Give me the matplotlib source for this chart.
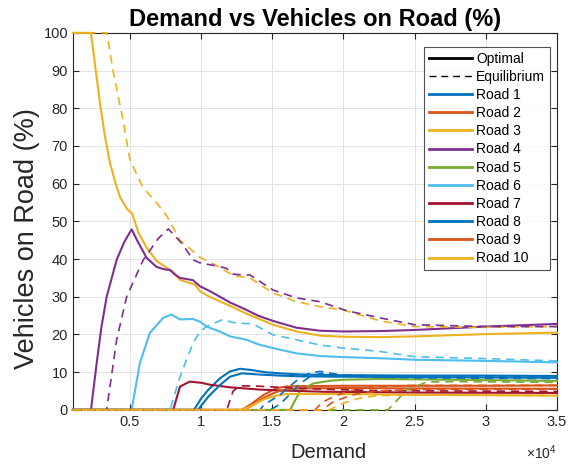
import matplotlib
matplotlib.use('Agg')
import matplotlib.pyplot as plt
from matplotlib.lines import Line2D

plt.rcParams['font.family'] = ['Liberation Sans', 'DejaVu Sans']
plt.rcParams['mathtext.fontset'] = 'custom'
plt.rcParams['mathtext.rm'] = 'Liberation Sans'

# MATLAB default colour order, roads 8-10 repeat 1-3
colors = ['#0072BD', '#D95319', '#EDB120', '#7E2F8E', '#77AC30',
          '#4DBEEE', '#A2142F', '#0072BD', '#D95319', '#EDB120']
road_names = ['Road %d' % i for i in range(1, 11)]
x_ticks = [5000, 10000, 15000, 20000, 25000, 30000, 35000]
x_tick_labels = ['0.5', '1', '1.5', '2', '2.5', '3', '3.5']

# optimal assignment (solid)
opt_x = [
    [1000, 9500, 10000, 10500, 11330, 12030, 12730, 13500, 14500, 15500, 17000, 20000, 25000, 30000, 35000],
    [1000, 12850, 13500, 14400, 15300, 16000, 17000, 20000, 25000, 30000, 35000],
    [1000, 2265, 2500, 2897, 3250, 3600, 4000, 4302, 4800, 5166, 5600, 6180, 6880, 7580, 8030, 8520, 9570,
     9920, 10600, 12030, 13200, 15050, 16700, 18350, 20000, 22570, 25000, 30000, 35000],
    [1000, 2265, 2665, 3000, 3367, 4070, 4600, 5124, 5500, 6180, 6880, 7400, 7810, 8200, 8520, 9000, 9430,
     9920, 10620, 12030, 13200, 14000, 15050, 16700, 18350, 20000, 22570, 25000, 30000, 35000],
    [1000, 16250, 16950, 17860, 19000, 20000, 22500, 25000, 30000, 35000],
    [1000, 5124, 5400, 5700, 6400, 7330, 7900, 8520, 9430, 9920, 10390, 11500, 12030, 13200, 14000, 15050,
     16700, 18350, 20000, 22570, 25000, 30000, 35000],
    [1000, 8040, 8520, 9200, 10000, 10600, 12000, 14100, 16000, 18800, 25000, 35000],
    [1000, 9780, 10500, 11330, 12030, 12850, 14000, 15500, 17000, 20000, 25000, 30000, 35000],
    [1000, 13000, 13600, 14400, 15300, 16000, 17000, 20000, 25000, 35000],
    [1000, 12850, 13600, 14400, 15300, 16000, 20000, 25000, 35000],
]
opt_y = [
    [0, 0, 3.0, 5.3, 8.4, 10.2, 10.9, 10.6, 10.0, 9.7, 9.4, 9.2, 9.1, 9.1, 9.0],
    [0, 0, 1.5, 4.0, 5.8, 6.2, 6.3, 6.4, 6.4, 6.4, 6.5],
    [100, 100, 93, 81.4, 72.5, 65.5, 60.0, 56.5, 53.3, 52.0, 47.0, 43.0, 39.5, 37.7, 36.6, 34.5, 33.2,
     31.5, 30.0, 27.6, 25.5, 22.6, 20.8, 19.7, 19.4, 19.3, 19.5, 20.1, 20.5],
    [0, 0, 12.4, 22.0, 30.0, 39.8, 44.5, 47.9, 45.0, 40.3, 37.9, 37.3, 37.1, 35.8, 35.0, 34.7, 34.4,
     32.8, 31.5, 28.5, 26.5, 25.0, 23.6, 21.8, 21.0, 20.8, 20.9, 21.2, 22.1, 22.8],
    [0, 0, 5.0, 7.0, 7.7, 8.0, 8.2, 8.1, 7.9, 7.7],
    [0, 0, 6.0, 12.4, 20.4, 24.4, 25.3, 24.0, 24.1, 23.4, 22.1, 20.5, 19.5, 18.6, 17.4, 16.4,
     15.0, 14.3, 14.0, 13.7, 13.3, 13.0, 12.6],
    [0, 0, 6.2, 7.5, 7.2, 6.7, 6.0, 5.4, 5.1, 4.8, 4.6, 4.5],
    [0, 0, 3.5, 6.6, 8.8, 9.7, 9.4, 9.1, 8.9, 8.8, 8.7, 8.6, 8.5],
    [0, 0, 1.2, 3.2, 4.8, 5.4, 5.7, 5.8, 5.7, 5.6],
    [0, 0, 1.2, 2.8, 3.8, 4.2, 4.2, 4.0, 3.8],
]

# user equilibrium (dashed)
eq_x = [
    [1000, 14140, 14400, 15540, 16460, 16950, 17650, 18350, 19760, 22000, 25000, 30000, 35000],
    [1000, 18000, 18500, 19300, 20200, 21000, 22500, 25000, 35000],
    [1000, 3390, 3810, 4510, 5000, 5920, 6880, 7580, 8520, 9920, 11330, 12250, 13430, 15050, 16700,
     18350, 20000, 22570, 25000, 30000, 35000],
    [1000, 3367, 4070, 4770, 5940, 7000, 7700, 8730, 9430, 9920, 10620, 11330, 11800, 12250, 12940,
     13430, 15050, 16700, 18350, 20230, 22570, 25000, 30000, 35000],
    [1000, 23130, 24440, 25850, 28000, 35000],
    [1000, 7810, 8520, 9430, 9920, 10390, 11540, 12200, 12730, 13650, 15050, 16700, 18350, 20000,
     22570, 25000, 30000, 35000],
    [1000, 11800, 12250, 12730, 14000, 16000, 19300, 22800, 35000],
    [1000, 14840, 15540, 16460, 16950, 17650, 18350, 19760, 22000, 25000, 30000, 35000],
    [1000, 18500, 19300, 20200, 21000, 22500, 25000, 35000],
    [1000, 19000, 20000, 21200, 22500, 25000, 35000],
]
eq_y = [
    [0, 0, 1.3, 4.0, 7.0, 8.5, 9.8, 10.2, 9.3, 9.1, 9.0, 8.9, 8.9],
    [0, 0, 2.0, 3.5, 4.8, 5.5, 6.2, 6.5, 6.5],
    [100, 100, 90, 77, 66.3, 59, 54.9, 51.5, 45.0, 40.5, 37.8, 35.6, 35.0, 31.0, 28.7,
     27.4, 26.5, 23.6, 22.1, 21.9, 22.1],
    [0, 0, 18.6, 30.0, 39.8, 45.5, 48.0, 43.8, 39.8, 39.0, 38.5, 38.0, 37.5, 36.0, 35.8,
     35.8, 31.8, 29.7, 28.7, 26.3, 24.4, 22.6, 22.1, 22.1],
    [0, 0, 5.3, 7.4, 7.5, 7.3],
    [0, 0, 8.8, 17.7, 20.8, 22.1, 24.0, 23.2, 23.0, 22.8, 19.9, 18.6, 17.2, 16.4,
     15.5, 14.1, 13.6, 13.0],
    [0, 0, 5.0, 6.4, 6.3, 5.9, 5.4, 5.1, 4.9],
    [0, 0, 1.5, 5.0, 7.0, 8.8, 9.6, 9.2, 8.7, 8.5, 8.4, 8.3],
    [0, 0, 2.2, 3.4, 4.3, 5.0, 5.4, 5.5],
    [0, 0, 1.8, 3.2, 3.8, 4.0, 3.8],
]

DASH = (0, (5, 3.5))
DARK = '#262626'

fig = plt.figure(figsize=(5.79, 4.69), dpi=100)
ax = fig.add_axes([0.126, 0.126, 0.836, 0.804])

for i in range(10):
    ax.plot(opt_x[i], opt_y[i], color=colors[i], lw=1.5, ls='-', clip_on=False)
for i in range(10):
    ax.plot(eq_x[i], eq_y[i], color=colors[i], lw=1.2, ls=DASH, clip_on=False)

ax.set_xlim(1000, 35000)
ax.set_ylim(0, 100)
ax.set_xticks(x_ticks)
ax.set_xticklabels(x_tick_labels)
ax.set_yticks(range(0, 101, 10))
ax.text(1.0, -0.088, r'$\times 10^{4}$', transform=ax.transAxes, ha='right', va='top',
        fontsize=10, color=DARK)

ax.grid(True, color='#e3e3e3', lw=0.7)
ax.set_axisbelow(True)
for sp in ax.spines.values():
    sp.set_color(DARK)
    sp.set_linewidth(0.8)
    sp.set_zorder(1.5)
ax.tick_params(direction='in', labelsize=10.5, colors=DARK, length=4, top=True, right=True)

ax.set_title('Demand vs Vehicles on Road (%)', fontsize=17, fontweight='bold', pad=5)
ax.set_xlabel('Demand', fontsize=14.5, color=DARK)
ax.xaxis.set_label_coords(0.527, -0.087)
ax.set_ylabel('Vehicles on Road (%)', fontsize=19.5, color=DARK)
ax.yaxis.set_label_coords(-0.068, 0.455)

handles = [Line2D([], [], color='black', lw=2, ls='-'),
           Line2D([], [], color='black', lw=1, ls=DASH)]
handles += [Line2D([], [], color=colors[i], lw=2) for i in range(10)]
labels = ['Optimal', 'Equilibrium'] + road_names
leg = ax.legend(handles, labels, loc='upper right', fontsize=10, frameon=True, fancybox=False,
                edgecolor=DARK, handlelength=3.1, handletextpad=0.3, labelspacing=0.3,
                borderpad=0.35, borderaxespad=0, bbox_to_anchor=(0.9855, 0.963))
leg.get_frame().set_linewidth(0.8)

fig.savefig('out.png', dpi=100)
